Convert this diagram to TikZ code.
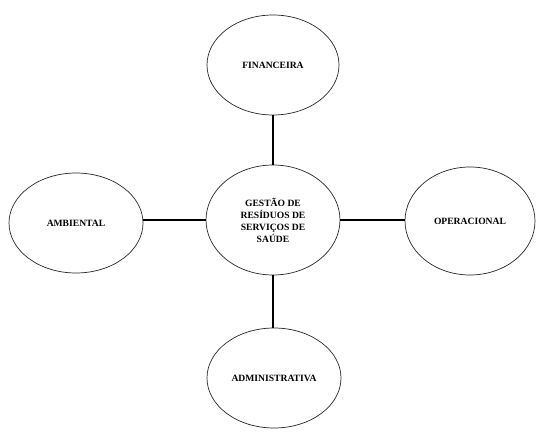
\documentclass[tikz,border=0pt]{standalone}
\usepackage{fontspec}
\setmainfont{Liberation Serif}
\usetikzlibrary{shapes.geometric}
\begin{document}
\begin{tikzpicture}[x=1pt,y=1pt,
  area/.style={ellipse, draw=black!85, line width=0.7pt, inner sep=0pt,
    font=\bfseries\fontsize{9.6}{12}\selectfont, align=center},
  link/.style={line width=2.2pt, black}]
\useasboundingbox (0,0) rectangle (536,432);
% central theme
\node[area, minimum width=134, minimum height=110] (gestao) at (273,212)
  {GESTÃO DE\\RESÍDUOS DE\\SERVIÇOS DE\\SAÚDE};
% surrounding dimensions
\node[area, minimum width=132, minimum height=100] (fin) at (273,367) {FINANCEIRA};
\node[area, minimum width=134, minimum height=100] (amb) at (76,209) {AMBIENTAL};
\node[area, minimum width=130, minimum height=108] (ope) at (470,211) {OPERACIONAL};
\node[area, minimum width=134, minimum height=100] (adm) at (274,54) {ADMINISTRATIVA};
% connectors
\draw[link] (fin.south) -- (gestao.north);
\draw[link] (gestao.south) -- (gestao.south |- adm.north);
\draw[link] (amb.east |- gestao.west) -- (gestao.west);
\draw[link] (gestao.east) -- (ope.west |- gestao.east);
\end{tikzpicture}
\end{document}
